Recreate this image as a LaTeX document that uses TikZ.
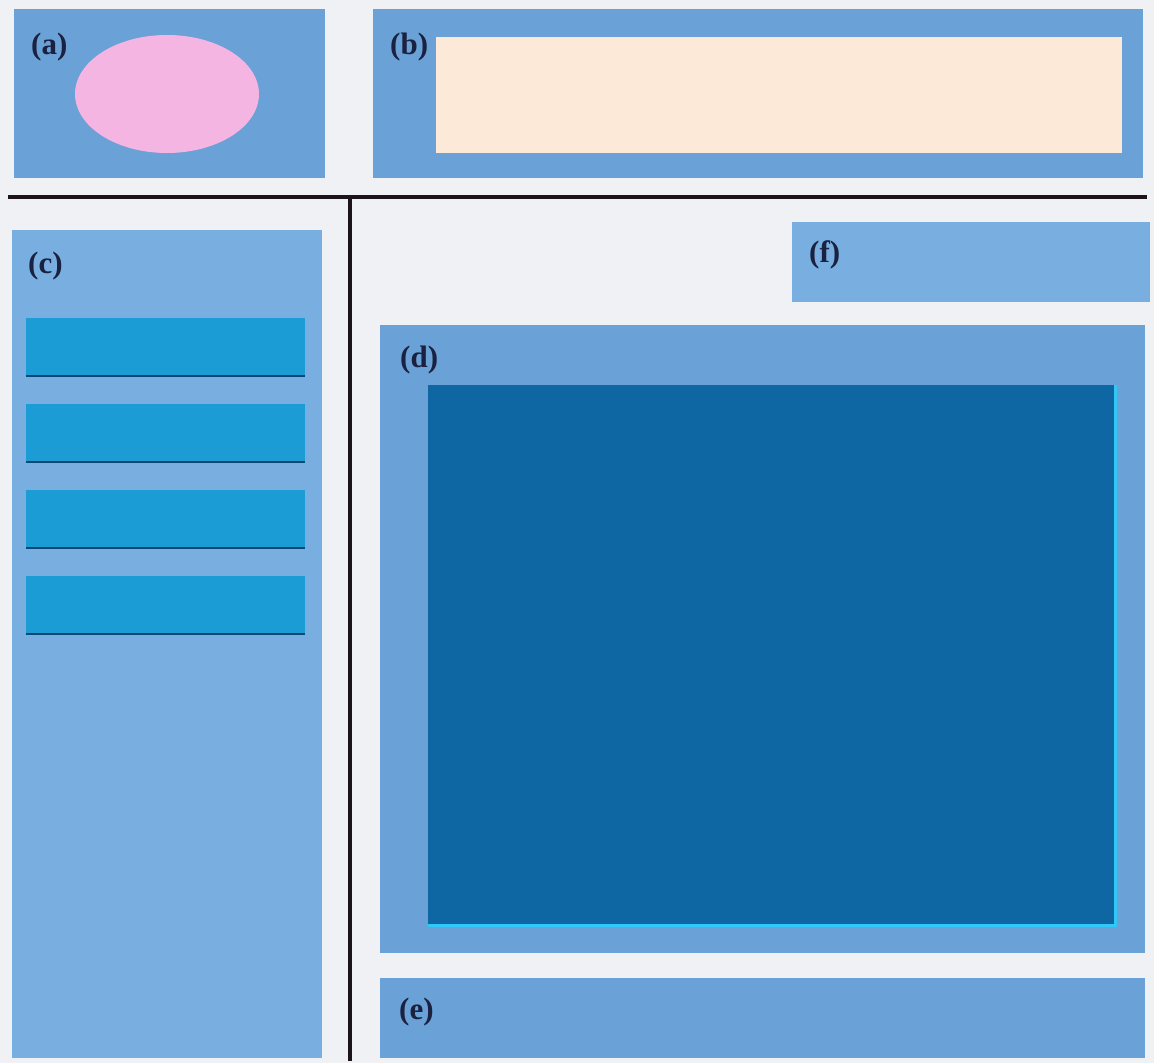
\documentclass[tikz,border=0pt]{standalone}
\usepackage{fontspec}
\setmainfont{Liberation Serif}
\usepackage{tikz}
\usetikzlibrary{positioning}
\usepackage{xcolor}
\definecolor{paper}{HTML}{F0F1F5}
\definecolor{panelblue}{HTML}{6AA1D6}
\definecolor{lightpanel}{HTML}{78AEE0}
\definecolor{barblue}{HTML}{1C9CD4}
\definecolor{screenblue}{HTML}{0E66A3}
\definecolor{glow}{HTML}{30C8F6}
\definecolor{pinkfill}{HTML}{F4B5E2}
\definecolor{creamfill}{HTML}{FDE9D7}
\definecolor{ink}{HTML}{1B2140}
\definecolor{rule}{HTML}{1C1418}

\begin{document}
\begin{tikzpicture}[x=1pt, y=-1pt,
    panel/.style={fill=panelblue},
    lbl/.style={anchor=west, inner sep=0pt, text=ink, font=\fontsize{31}{33}\selectfont\bfseries},
    bar/.style={fill=barblue}]
    % page
    \fill[paper] (0,0) rectangle (1154,1063);
    \useasboundingbox (0,0) rectangle (1154,1063);

    % top row
    \fill[panel] (14,9) rectangle (325,178);
    \fill[pinkfill] (167,94) ellipse [x radius=92, y radius=59];
    \node[lbl] (la) at (31,47) {(a)};

    \fill[panel] (373,9) rectangle (1143,178);
    \fill[creamfill] (436,37) rectangle (1122,153);
    \node[lbl] (lb) at (390,47) {(b)};

    % dividers
    \draw[line width=4.5pt, rule] (8,197) -- (1147,197);
    \draw[line width=3.5pt, rule] (350,197) -- (350,1061);

    % left column
    \fill[lightpanel] (12,230) rectangle (322,1058);
    \node[lbl] (lc) at (28,266) {(c)};
    \foreach \y in {318,404,490,576} {
        \fill[bar] (26,\y) rectangle (305,\y+58);
        \draw[screenblue!70!black, line width=1.5pt] (26,\y+58) -- (305,\y+58);
    }

    % right side
    \fill[lightpanel] (792,222) rectangle (1150,302);
    \node[lbl] (lf) at (809,255) {(f)};

    \fill[panel] (380,325) rectangle (1145,953);
    \node[lbl] (ld) at (400,360) {(d)};
    \fill[screenblue] (428,385) rectangle (1115,925);
    \draw[glow, line width=3pt] (1115,385) -- (1115,925) -- (428,925);

    \fill[panel] (380,978) rectangle (1145,1058);
    \node[lbl] (le) at (399,1012) {(e)};
\end{tikzpicture}
\end{document}
